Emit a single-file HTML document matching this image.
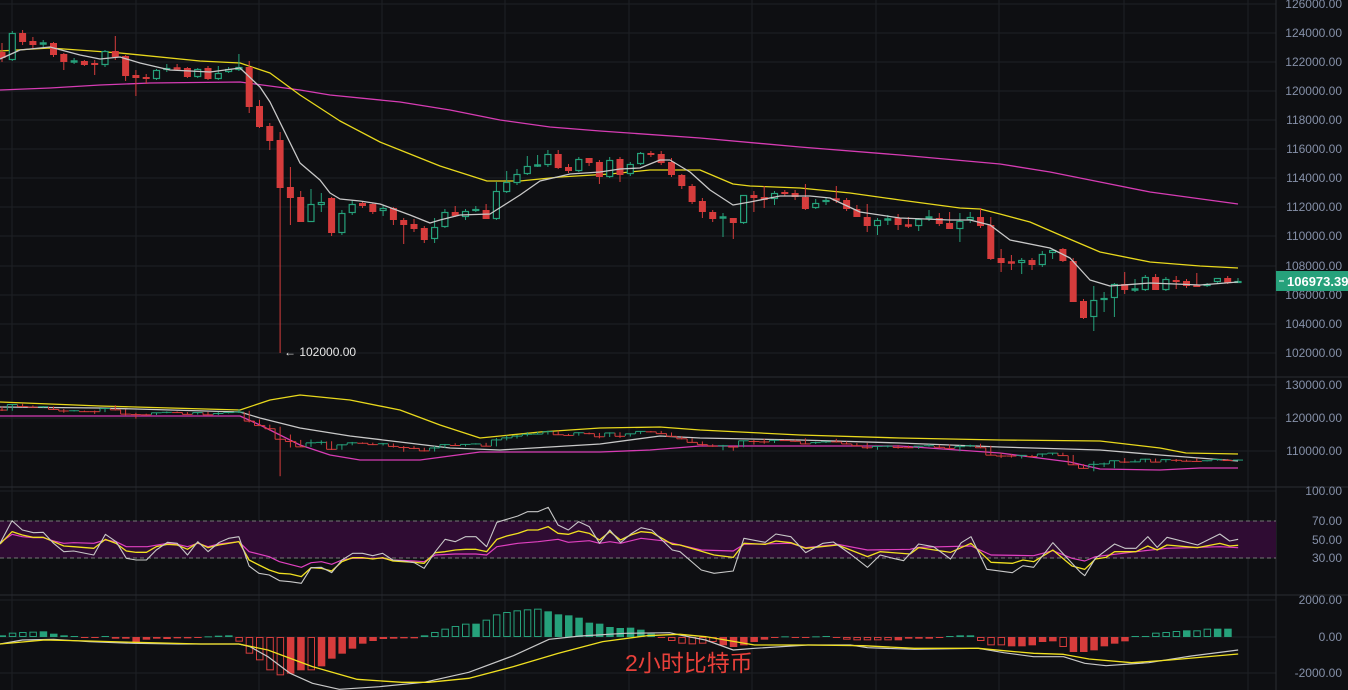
<!DOCTYPE html>
<html><head><meta charset="utf-8">
<style>
html,body{margin:0;padding:0;background:#0e0f12;}
svg{display:block;font-family:"Liberation Sans","Noto Sans CJK SC",sans-serif;}
</style></head>
<body>
<svg id="c" width="1348" height="690" viewBox="0 0 1348 690" xmlns="http://www.w3.org/2000/svg">
<rect width="1348" height="690" fill="#0e0f12"/>
<g id="grid" stroke="#1e2025" stroke-width="1"></g>
<rect x="0" y="521" width="1276" height="37" fill="#2f0c33"/>
<line x1="0" y1="521" x2="1276" y2="521" stroke="#777" stroke-dasharray="4,3"/>
<line x1="0" y1="558" x2="1276" y2="558" stroke="#777" stroke-dasharray="4,3"/>
<g id="plot"></g>
<g id="axis" fill="#8590a8" font-size="12"></g>
<rect x="1276" y="271" width="72" height="20" fill="#26a17b"/>
<line x1="1279" y1="281" x2="1284" y2="281" stroke="#fff"/>
<text x="1287" y="286" fill="#fff" font-size="13" font-weight="bold">106973.39</text>
<text x="284" y="356" fill="#e8e8e8" font-size="12">← 102000.00</text>
<text x="625" y="671" fill="#e8403a" font-size="23">2小时比特币</text>
</svg>
<script>
var NS="http://www.w3.org/2000/svg";
function el(p,t,a){var e=document.createElementNS(NS,t);for(var k in a)e.setAttribute(k,a[k]);p.appendChild(e);return e;}
var G=document.getElementById('grid'),P=document.getElementById('plot'),A=document.getElementById('axis');
var vx=[12,136,259,382,505,629,752,876,999,1124,1248];
vx.forEach(function(x){el(G,'line',{x1:x,y1:0,x2:x,y2:690});});
var hy=[4,33,62,91,120,149,178,207,236,266,295,324,353,385,418,451,491,521,540,558,600,637,673];
hy.forEach(function(y){el(G,'line',{x1:0,y1:y,x2:1276,y2:y});});
[377,487,595].forEach(function(y){el(G,'line',{x1:0,y1:y,x2:1348,y2:y,stroke:'#2a2c32'});});
el(G,'line',{x1:1276,y1:0,x2:1276,y2:690,stroke:'#2a2c32'});
var labs=[[4,'126000.00'],[33,'124000.00'],[62,'122000.00'],[91,'120000.00'],[120,'118000.00'],[149,'116000.00'],[178,'114000.00'],[207,'112000.00'],[236,'110000.00'],[266,'108000.00'],[295,'106000.00'],[324,'104000.00'],[353,'102000.00'],
[385,'130000.00'],[418,'120000.00'],[451,'110000.00'],[491,'100.00'],[521,'70.00'],[540,'50.00'],[558,'30.00'],[600,'2000.00'],[637,'0.00'],[673,'-2000.00']];
labs.forEach(function(l){var t=el(A,'text',{x:1342,y:l[0]+4,'text-anchor':'end'});t.textContent=l[1];});
var C=[[52,58,43,62],[60,33,31,61],[33,42,30,45],[41,45,37,48],[44,43,40,47],[43,55,42,57],[54,62,53,70],[62,61,58,64],[61,65,60,66],[63,65,60,75],
[65,51,50,67],[51,57,36,60],[56,76,55,81],[75,78,70,96],[77,79,74,84],[79,70,69,80],[70,68,64,72],[68,69,64,71],[68,77,67,78],[77,69,68,78],
[68,79,66,80],[79,73,66,80],[72,69,67,73],[70,67,54,71],[67,107,61,113],[106,127,100,128],[126,141,123,150],[140,188,132,353],[187,198,167,225],[197,222,191,222],
[222,204,189,222],[205,202,193,212],[198,233,197,236],[233,213,210,235],[213,204,200,215],[203,206,202,208],[204,212,203,214],[211,208,205,216],[208,220,207,225],[220,225,218,244],
[224,229,219,232],[228,240,226,243],[239,227,218,243],[227,212,209,228],[212,216,206,217],[217,211,209,220],[211,209,206,212],[210,219,204,219],[219,191,182,220],[192,182,171,193],
[183,174,169,185],[174,166,156,175],[166,165,155,167],[165,154,150,167],[154,168,150,169],[167,171,164,173],[171,159,157,172],[158,163,158,166],[162,177,160,184],[177,160,157,178],
[159,175,157,182],[174,164,162,176],[164,153,152,165],[153,155,151,157],[154,163,151,165],[162,175,158,177],[175,186,174,189],[186,202,184,204],[201,212,198,218],[212,219,210,222],
[218,217,213,237],[218,223,218,239],[223,195,195,224],[195,198,191,212],[197,200,186,208],[199,193,191,205],[192,194,190,196],[193,197,190,200],[197,209,184,210],[208,203,199,209],
[202,200,198,205],[199,200,186,203],[200,209,198,211],[209,217,205,217],[217,226,204,232],[226,220,218,235],[220,219,215,225],[218,225,214,230],[225,226,217,228],[226,219,218,231],
[218,217,210,221],[218,224,213,226],[223,229,212,229],[229,221,213,242],[220,217,212,223],[217,226,208,228],[225,259,217,260],[258,263,249,272],[262,263,255,270],[263,260,258,274],
[260,265,258,270],[265,254,251,267],[253,250,249,259],[249,261,248,262],[261,302,258,302],[301,318,299,319],[317,300,286,331],[300,298,292,312],[298,284,283,317],[284,290,272,294],
[290,289,279,292],[290,277,275,291],[277,290,274,290],[290,279,277,291],[280,282,276,289],[281,286,279,288],[285,287,273,287],[286,284,283,287],[282,278,278,284],[278,283,276,284],[283,281,278,283]];
var RED="#d63c3c",GRN="#26a17b";
function drawCandles(f){
 C.forEach(function(d,i){var x=2+10.3*i;var up=d[1]<d[0];var col=up?GRN:RED;
  var o=f(d[0]),c=f(d[1]),h=f(d[2]),l=f(d[3]);var t=Math.min(o,c),b=Math.max(o,c);
  el(P,'line',{x1:x,y1:h,x2:x,y2:t,stroke:col,'stroke-width':1});
  el(P,'line',{x1:x,y1:b,x2:x,y2:l,stroke:col,'stroke-width':1});
  if(b-t<1.5){el(P,'rect',{x:x-3.5,y:t-0.75,width:7,height:1.5+b-t,fill:col});}
  else if(up){el(P,'rect',{x:x-3,y:t+0.5,width:6,height:b-t-1,fill:'#0e0f12',stroke:col,'stroke-width':1.2});}
  else el(P,'rect',{x:x-3.5,y:t,width:7,height:b-t,fill:col});
 });
}
function line(pts,col,w){el(P,'polyline',{points:pts.map(function(p){return p[0]+','+p[1];}).join(' '),fill:'none',stroke:col,'stroke-width':w||1.3,'stroke-linejoin':'round'});}
line([[0,90],[50,88],[100,85],[150,83],[240,82],[300,90],[330,95],[400,102],[450,110],[500,120],[550,127],[600,131],[700,138],[800,147],[900,155],[1000,164],[1050,172],[1100,182],[1150,192],[1238,204]],'#d63cb4');
line([[0,51],[50,48],[120,53],[200,61],[240,63],[270,73],[300,95],[340,121],[380,142],[400,150],[440,166],[487,181],[520,181],[560,177],[610,174],[650,170],[700,170],[733,184],[750,186],[800,188],[850,193],[900,200],[960,208],[980,209],[1000,214],[1030,222],[1060,235],[1100,252],[1150,262],[1200,266],[1238,268]],'#e8d81c');
drawCandles(function(y){return y;});
line([[0,59],[20,50],[50,47],[80,55],[100,59],[120,57],[140,63],[170,70],[210,72],[240,68],[260,87],[270,102],[300,163],[320,180],[330,193],[340,199],[360,201],[380,204],[410,215],[430,223],[440,220],[460,215],[490,214],[520,195],[540,181],[570,174],[600,172],[620,169],[640,168],[660,160],[670,160],[690,172],[710,190],[733,205],[750,202],[780,196],[810,196],[830,198],[860,212],[900,218],[950,220],[970,220],[990,225],[1010,240],[1050,248],[1070,258],[1090,280],[1110,286],[1150,283],[1200,285],[1238,282]],'#c8c8c8');
line([[0,402],[100,406],[240,410],[270,400],[300,395],[350,400],[400,410],[440,425],[480,438],[540,432],[600,428],[660,427],[700,430],[800,435],[900,438],[1000,440],[1100,441],[1160,448],[1186,453],[1238,454]],'#e8d81c');
line([[0,407],[100,408],[240,412],[260,418],[300,428],[350,436],[400,442],[450,448],[500,450],[600,444],[660,436],[700,438],[800,440],[900,443],[1000,447],[1100,450],[1160,455],[1238,461]],'#c8c8c8');
line([[0,416],[240,416],[260,425],[300,445],[330,455],[360,460],[420,460],[480,452],[600,452],[650,450],[700,446],[800,446],[900,446],[1000,453],[1070,462],[1100,469],[1160,470],[1200,468],[1238,468]],'#d63cb4');
(function(){C.forEach(function(d,i){var x=2+10.3*i;var f=function(y){return 398+(y-4)*0.2241;};var up=d[1]<d[0];var col=up?GRN:RED;
 var o=f(d[0]),c=f(d[1]);el(P,'line',{x1:x,y1:f(d[2]),x2:x,y2:f(d[3]),stroke:col});
 el(P,'line',{x1:x-5,y1:o,x2:x-5,y2:c,stroke:col});el(P,'line',{x1:x-5,y1:c,x2:x+5,y2:c,stroke:col});});})();
function z3(a){return a.filter(function(p){return p[0]/2.24<679;}).map(function(p){return [p[0]/2.24,480+p[1]/3];});}
function z6(a){return a.map(function(p){return [680+p[0]/2.347,480+p[1]/3];});}
var w3=[[0,190],[27,122],[50,150],[75,158],[97,157],[120,190],[143,215],[165,213],[210,225],[236,163],[260,185],[283,235],[305,240],[328,240],[350,210],[375,187],[397,190],[420,225],[443,185],[466,215],[490,188],[512,175],[535,170],[558,258],[580,280],[603,285],[626,302],[650,305],[675,310],[697,263],[720,262],[743,278],[766,240],[790,220],[812,220],[835,227],[857,220],[880,240],[905,243],[928,248],[950,265],[975,215],[997,178],[1020,185],[1043,170],[1066,170],[1090,200],[1113,127],[1135,118],[1160,108],[1182,95],[1205,95],[1228,82],[1250,135],[1273,150],[1296,125],[1320,140],[1343,190],[1366,150],[1390,188],[1413,162],[1436,143],[1460,150],[1483,180],[1506,210],[1530,235]];
var w6=[[0,215],[50,270],[80,280],[125,273],[150,175],[200,187],[225,162],[260,170],[295,218],[335,190],[360,186],[400,222],[440,262],[470,225],[500,235],[525,242],[560,192],[595,200],[635,237],[660,188],[683,170],[720,268],[780,278],[805,257],[830,262],[875,188],[940,277],[950,287],[975,235],[1020,192],[1045,205],[1070,205],[1098,170],[1120,202],[1143,172],[1215,195],[1267,162],[1290,183],[1310,178]];
var y3=[[0,192],[27,155],[50,165],[75,172],[97,172],[120,185],[143,198],[165,200],[210,205],[236,178],[260,190],[283,213],[305,217],[328,217],[350,200],[375,193],[397,195],[420,208],[443,188],[466,203],[490,195],[535,185],[558,240],[580,255],[603,270],[626,280],[650,282],[675,290],[697,263],[720,265],[743,273],[766,245],[790,233],[812,233],[835,237],[857,233],[880,243],[905,245],[928,247],[950,250],[975,218],[997,215],[1020,210],[1043,208],[1066,208],[1090,215],[1113,178],[1135,168],[1160,160],[1182,150],[1205,150],[1228,140],[1250,160],[1273,163],[1296,153],[1320,160],[1343,180],[1366,155],[1390,180],[1413,165],[1436,155],[1460,158],[1483,175],[1506,193],[1530,207]];
var y6=[[0,195],[80,225],[125,232],[150,190],[200,193],[225,183],[260,188],[295,205],[370,195],[440,230],[470,215],[540,222],[560,203],[635,217],[683,190],[730,247],[780,250],[805,240],[830,245],[875,210],[920,258],[950,268],[975,237],[1000,232],[1020,215],[1070,215],[1098,198],[1120,210],[1143,195],[1215,203],[1267,190],[1290,198],[1310,196]];
var m3=[[0,188],[27,163],[50,170],[75,173],[97,173],[120,183],[143,190],[165,188],[210,190],[236,180],[260,185],[283,200],[330,200],[375,190],[397,193],[420,200],[443,190],[466,200],[490,192],[535,185],[558,215],[603,230],[626,245],[675,262],[697,248],[720,245],[743,253],[766,240],[790,235],[857,235],[880,240],[928,243],[950,245],[975,225],[1020,222],[1066,222],[1090,225],[1113,200],[1160,190],[1205,185],[1250,178],[1273,187],[1320,182],[1343,190],[1366,185],[1390,190],[1436,175],[1483,182],[1530,195]];
var m6=[[0,195],[50,210],[125,213],[150,193],[260,190],[295,203],[370,193],[440,210],[540,208],[560,202],[683,198],[730,225],[830,227],[875,212],[920,235],[950,243],[975,230],[1070,215],[1143,205],[1267,200],[1310,203]];
line(z3(m3).concat(z6(m6)),'#e040c0',1.2);
line(z3(y3).concat(z6(y6)),'#f0e020',1.3);
line(z3(w3).concat(z6(w6)),'#c8c8c8',1.1);
var H=[5,'13h','15h','16h',17,10,5,3,-2,-3,3,'-5h','-5h',-15,-8,-5,'-6h',-4,-4,-3,2,4,5,'-14h','-50h','-70h','-100h','-115h',-110,-100,'-100h',-88,-65,-50,-35,-20,-12,-6,-5,-4,-4,5,'15h','25h','33h','40h',40,'52h','68h','75h','80h','83h','85h',77,68,65,58,43,40,30,27,28,22,10,-3,'-12h','-20h','-22h','-20h','-15h',-25,-30,-25,-15,-8,-3,2,-2,-2,2,3,-2,'-8h','-10h','-10h','-10h','-10h',-10,-5,-5,-5,-3,3,5,5,'-12h','-25h','-25h',-28,-28,-25,-15,-13,'-30h',-45,-45,-40,-28,-20,-13,3,3,'13h','15h','18h',20,'20h','25h',25,25];
H.forEach(function(v,i){var hol=(typeof v==='string');var n=parseFloat(v)/3;var x=2+10.3*i;var col=n>=0?GRN:RED;
 var t=n>=0?637-n:637,h=Math.max(Math.abs(n),1);
 if(hol)el(P,'rect',{x:x-3,y:t+0.5,width:6.5,height:Math.max(h-1,0.5),fill:'none',stroke:col,'stroke-width':1});
 else el(P,'rect',{x:x-3.5,y:t,width:7.5,height:h,fill:col});});
var dw3=[[0,492],[50,480],[120,478],[200,485],[300,490],[400,492],[535,492],[560,500],[600,530],[650,580],[700,610],[760,628],[850,620],[950,607],[1050,577],[1150,527],[1230,478],[1300,468],[1400,460],[1500,458]];
var dw6=[[0,465],[60,480],[125,510],[175,505],[300,495],[400,495],[440,503],[550,508],[700,505],[760,518],[830,530],[900,530],[950,550],[1000,557],[1100,548],[1150,538],[1200,528],[1310,510]];
var dy3=[[0,492],[100,480],[200,483],[300,487],[450,492],[535,492],[600,510],[700,560],[800,598],[900,607],[960,607],[1050,595],[1150,560],[1250,520],[1350,485],[1450,467],[1500,464]];
var dy6=[[0,463],[60,470],[175,495],[300,495],[430,497],[550,505],[700,505],[760,512],[830,520],[900,523],[960,537],[1060,548],[1150,540],[1310,522]];
line(z3(dw3).concat(z6(dw6)),'#c8c8c8',1.2);
line(z3(dy3).concat(z6(dy6)),'#f0e020',1.3);
</script>
</body></html>
